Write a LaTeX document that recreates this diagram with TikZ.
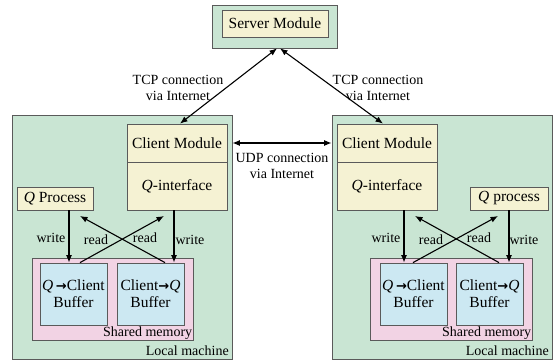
\documentclass[tikz,border=0pt]{standalone}
\usepackage{fontspec}
\setmainfont{Liberation Serif}
\newfontfamily\symfont{DejaVu Sans}
\usepackage{tikz}
\usetikzlibrary{arrows.meta, positioning, calc}
\definecolor{machinegreen}{HTML}{C9E5D3}
\definecolor{modyellow}{HTML}{F5F2D3}
\definecolor{shmpink}{HTML}{F2D3E4}
\definecolor{bufblue}{HTML}{CCE8F2}
\definecolor{edgegray}{HTML}{5A5A5A}
\newcommand{\bufarrow}{{\symfont\bfseries\fontsize{13}{15}\selectfont →}}
\tikzset{
  box/.style={fill=#1, draw=edgegray, line width=0.8pt, inner sep=0pt},
  box/.default=modyellow,
  mod/.style={box=#1, font=\fontsize{15.5}{17}\selectfont, align=center},
  mod/.default=modyellow,
  lbl/.style={font=\fontsize{14}{16}\selectfont, align=center, inner sep=1pt},
  flow/.style={-{Latex[length=7.5pt, width=6pt]}, line width=1.1pt},
  both/.style={{Latex[length=7.5pt, width=6pt]}-{Latex[length=7.5pt, width=6pt]}, line width=1.1pt},
}

\begin{document}
\begin{tikzpicture}[x=1pt, y=-1pt,
  machine/.style={box=machinegreen, minimum width=220, minimum height=244},
  shm/.style={box=shmpink, minimum width=161, minimum height=82},
  buf/.style={mod=bufblue, minimum width=67, minimum height=62}]
  \useasboundingbox (0,0) rectangle (554,361);
  % server
  \node[box=machinegreen, minimum width=125, minimum height=43] (srvout) at (274.5,26.5) {};
  \node[mod, minimum width=106, minimum height=27] (srv) at (275,23.5) {Server Module};
  % the two machines
  \node[machine] (lm) at (122,237) {};
  \node[machine] (rm) at (442,237) {};
  \node[mod, minimum width=100, minimum height=38] (lcm) at (177,143) {Client Module};
  \node[mod, minimum width=100, minimum height=48] (lqi) at (177,186) {\textit{Q}-interface};
  \node[mod, minimum width=100, minimum height=38] (rcm) at (387,143) {Client Module};
  \node[mod, minimum width=100, minimum height=48] (rqi) at (387,186) {\textit{Q}-interface};
  \node[mod, minimum width=76, minimum height=23] (lqp) at (55,198.5) {\textit{Q} Process};
  \node[mod, minimum width=78, minimum height=23] (rqp) at (509,198.5) {\textit{Q} process};
  \node[shm] (lsm) at (112.5,299) {};
  \node[shm, minimum width=162] (rsm) at (451,299) {};
  \foreach \n/\x/\t in {lb1/73.5/{\textit{Q}\,\bufarrow Client}, lb2/150.5/{Client\bufarrow\textit{Q}}, rb1/413.5/{\textit{Q}\,\bufarrow Client}, rb2/489.5/{Client\bufarrow\textit{Q}}} {
    \node[buf] (\n) at (\x,294) {\t\\Buffer};
  }
  \node[lbl, anchor=south east] (lsml) at (lsm.south east) {Shared memory};
  \node[lbl, anchor=south east] (rsml) at (rsm.south east) {Shared memory};
  \node[lbl, anchor=south east, inner sep=3.5pt] (lml) at (lm.south east) {Local machine};
  \node[lbl, anchor=south east, inner sep=3.5pt] (rml) at (rm.south east) {Local machine};
  % connections
  \draw[both] ([xshift=2.5]srvout.south) -- ([xshift=3]lcm.north);
  \draw[both] ([xshift=5.5]srvout.south) -- ([xshift=-4]rcm.north);
  \draw[both] (lm.east |- lcm) -- (rm.west |- rcm);
  \node[lbl] (tcpl) at (178,88) {TCP connection\\via Internet};
  \node[lbl] (tcpr) at (378,88) {TCP connection\\via Internet};
  \node[lbl] (udp) at (282,166) {UDP connection\\via Internet};
  % read / write
  \coordinate (lrd1) at (80,216);
  \coordinate (lrd2) at (164,216);
  \coordinate (rrd1) at (415,216);
  \coordinate (rrd2) at (498,216);
  \draw[flow] ([xshift=14]lqp.south) -- ([xshift=-4.5]lb1.north);
  \draw[flow] ([xshift=-3]lqi.south) -- ([xshift=23.5]lb2.north);
  \draw[flow] ([xshift=14.5]lb2.north) -- (lrd1);
  \draw[flow] ([xshift=6.5]lb1.north) -- (lrd2);
  \draw[flow] ([xshift=17]rqi.south) -- ([xshift=-9.5]rb1.north);
  \draw[flow] (rqp.south) -- ([xshift=19.5]rb2.north);
  \draw[flow] ([xshift=-0.5]rb1.north) -- (rrd2);
  \draw[flow] ([xshift=9.5]rb2.north) -- (rrd1);
  \foreach \n/\x/\y/\t in {lw1/51/238/write, lr1/96/240/read, lr2/145/238/read, lw2/190/240/write,
                            rw1/386/238/write, rr1/431/240/read, rr2/479/238/read, rw2/524/240/write} {
    \node[lbl] (\n) at (\x,\y) {\t};
  }
\end{tikzpicture}
\end{document}
